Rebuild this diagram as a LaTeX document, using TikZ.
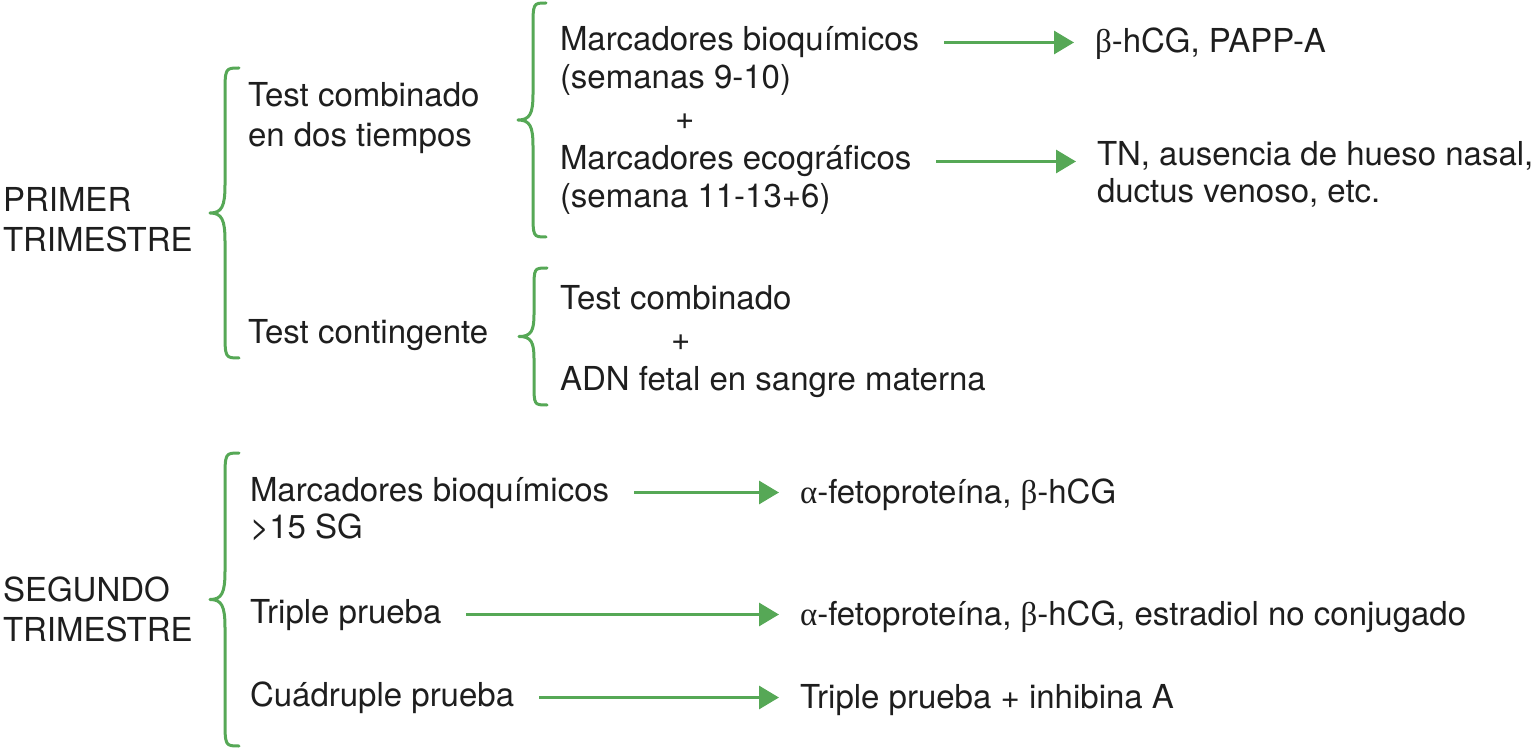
\documentclass[tikz,border=0pt]{standalone}
\usepackage{fontspec}
\setmainfont{TeX Gyre Heros}
\newfontfamily\grk{Liberation Serif}
\usetikzlibrary{arrows.meta}
\definecolor{brgreen}{RGB}{86,168,86}
\definecolor{txt}{RGB}{30,30,30}
\tikzset{
  lbl/.style={anchor=base west, inner sep=0pt, outer sep=0pt, text height=24pt, text depth=7pt, text=txt,
    font=\fontsize{33}{40}\selectfont},
  bracestyle/.style={draw=brgreen, line width=3pt, line cap=round, line join=round},
  arr/.style={draw=brgreen, line width=3pt, -{Triangle[length=20pt,width=23pt]}, shorten <=25pt, shorten >=21pt}
}
\newcommand\mybrace[6]{% xtip, xline, xend, ytop, ybot, r
  \pgfmathsetmacro\ym{(#4+#5)/2}
  \draw[bracestyle] (#3,#4) .. controls (#2,#4) and (#2,#4) .. (#2,#4+#6)
    -- (#2,\ym-#6) .. controls (#2,\ym-0.25*#6) and (#2-3,\ym) .. (#1,\ym)
    .. controls (#2-3,\ym) and (#2,\ym+0.25*#6) .. (#2,\ym+#6)
    -- (#2,#5-#6) .. controls (#2,#5) and (#2,#5) .. (#3,#5);
}
\begin{document}
\begin{tikzpicture}[x=1pt,y=-1pt]
\useasboundingbox (0,0) rectangle (1532,751);

% braces
\mybrace{210}{225}{239}{68}{358}{28}
\mybrace{518}{533}{546}{3}{237}{26}
\mybrace{519}{534}{547}{268}{405}{22}
\mybrace{210}{225}{239}{453}{746}{28}

% first trimester
\node[lbl] (p1) at (3,212) {PRIMER};
\node[lbl] (p2) at (3,252) {TRIMESTRE};
\node[lbl] (tc1) at (248,107) {Test combinado};
\node[lbl] (tc2) at (248,147) {en dos tiempos};
\node[lbl] (tct) at (248,344) {Test contingente};

\node[lbl] (mb1) at (560,51) {Marcadores bioquímicos};
\node[lbl] (mb2) at (560,89) {(semanas 9-10)};
\node[lbl] (pl1) at (675,130) {+};
\node[lbl] (me1) at (560,170) {Marcadores ecográficos};
\node[lbl] (me2) at (560,208) {(semana 11-13+6)};
\node[lbl] (r1) at (1095,53) {{\grk β}-hCG, PAPP-A};
\node[lbl] (r2a) at (1097,166) {TN, ausencia de hueso nasal,};
\node[lbl] (r2b) at (1097,203) {ductus venoso, etc.};

\node[lbl] (tcb) at (560,310) {Test combinado};
\node[lbl] (pl2) at (671,351) {+};
\node[lbl] (adn) at (560,391) {ADN fetal en sangre materna};

% second trimester
\node[lbl] (s1) at (3,601) {SEGUNDO};
\node[lbl] (s2) at (3,641) {TRIMESTRE};
\node[lbl] (mbb1) at (250,501) {Marcadores bioquímicos};
\node[lbl] (mbb2) at (250,538) {>15 SG};
\node[lbl] (tp) at (250,623) {Triple prueba};
\node[lbl] (cp) at (250,706) {Cuádruple prueba};
\node[lbl] (ra) at (800,503) {{\grk α}-fetoproteína, {\grk β}-hCG};
\node[lbl] (rb) at (800,625) {{\grk α}-fetoproteína, {\grk β}-hCG, estradiol no conjugado};
\node[lbl] (rc) at (800,708) {Triple prueba + inhibina A};

% arrows
\draw[arr] (mb1.east) -- (mb1.east -| r1.west);
\draw[arr] (me1.east) -- (me1.east -| r2a.west);
\draw[arr] (mbb1.east) -- (mbb1.east -| ra.west);
\draw[arr] (tp.east) -- (tp.east -| rb.west);
\draw[arr] (cp.east) -- (cp.east -| rc.west);
\end{tikzpicture}
\end{document}
